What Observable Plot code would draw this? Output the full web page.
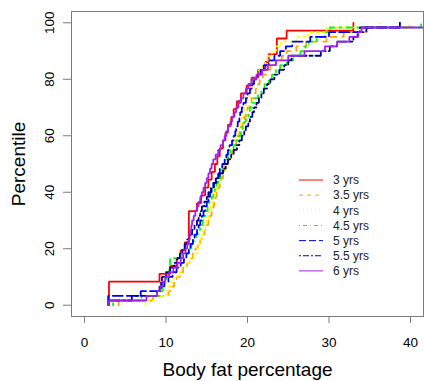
<!DOCTYPE html>
<html>
<head>
<meta charset="utf-8">
<script src="https://cdn.jsdelivr.net/npm/d3@7"></script>
<script src="https://cdn.jsdelivr.net/npm/@observablehq/plot@0.6"></script>
<style>
  html, body { margin: 0; padding: 0; background: #fff; }
  #chart { width: 424px; height: 381px; }
</style>
</head>
<body>
<div id="chart"></div>
<script>
// ---- data (body fat %) ----
const groups = ["3 yrs", "3.5 yrs", "4 yrs", "4.5 yrs", "5 yrs", "5.5 yrs", "6 yrs"];
const colors = ["#FF0000", "#FFA500", "#FFFF00", "#00FF00", "#0000FF", "#00008B", "#A020F0"];
const lineDash = [null, "6,6", "2,4", "2,5,6,5", "10,4", "3,3,9,3", null];
const legendDash = [null, "4,4", "1,3", "1,3,4,3", "7,3", "2,2,6,2", null];
const xTicks = [0, 10, 20, 30, 40];
const yTicks = [0, 20, 40, 60, 80, 100];

const fat3 = [3.0,3.0,3.0,9.2,10.5,11.3,11.8,12.3,12.8,12.8,12.8,12.8,13.8,14.3,14.8,15.2,15.6,16.0,
  16.3,16.6,17.0,17.3,17.6,18.0,18.3,18.7,19.2,19.9,20.5,21.3,22.2,22.6,23.6,23.6,24.8,33.0];
const fat35 = [4.2,8.4,10.3,10.6,11.0,11.3,11.7,12.1,12.6,12.9,13.3,13.6,13.9,14.2,14.4,14.7,15.0,15.2,
  15.4,15.6,15.8,15.9,16.1,16.2,16.4,16.6,16.8,17.0,17.2,17.4,17.6,17.9,18.1,18.3,18.6,18.8,19.0,19.2,
  19.4,19.6,19.8,20.0,20.3,20.5,20.8,21.0,21.3,21.5,21.9,22.4,22.8,23.5,24.2,24.8,26.0,27.2,29.7,31.8,34.5,39.9];
const fat4 = [7.5,8.6,10.0,10.3,10.6,10.9,11.4,11.9,12.4,12.9,13.4,13.8,14.0,14.2,14.4,14.6,14.8,15.0,
  15.2,15.3,15.5,15.7,15.8,16.0,16.2,16.4,16.6,16.7,16.9,17.1,17.3,17.6,17.8,18.1,18.3,18.6,18.8,18.9,
  19.1,19.3,19.4,19.6,19.8,20.0,20.2,20.4,20.6,20.8,21.1,21.4,21.8,22.2,22.6,23.0,23.5,24.1,26.0,27.5,29.7,36.2];
const fat45 = [3.5,7.0,9.3,9.6,9.8,10.0,10.2,10.4,10.5,10.5,11.8,12.8,13.1,13.4,13.7,13.9,14.2,14.5,
  14.7,14.9,15.1,15.3,15.6,15.8,16.0,16.2,16.4,16.7,16.9,17.1,17.4,17.6,17.9,18.3,18.6,19.0,19.2,19.4,
  19.6,19.8,20.1,20.3,20.6,20.9,21.3,21.7,22.1,22.6,23.0,23.5,24.0,24.8,25.6,26.5,27.1,27.5,28.5,29.5,30.1,41.3];
const fat5 = [2.9,2.9,6.9,9.4,9.8,10.3,10.8,11.3,11.8,12.2,12.5,12.8,13.0,13.3,13.5,13.8,14.0,14.2,
  14.4,14.6,14.8,15.0,15.2,15.4,15.6,15.9,16.1,16.4,16.6,16.9,17.2,17.4,17.6,17.8,18.1,18.3,18.5,18.6,
  18.8,19.0,19.1,19.3,19.5,19.8,20.0,20.3,20.6,20.8,21.2,21.6,22.0,22.6,23.3,24.0,24.7,25.5,27.7,30.0,34.6,38.7];
const fat55 = [3.0,5.8,8.9,9.2,9.4,9.5,10.0,10.5,11.0,11.4,11.7,12.0,12.3,12.6,12.9,13.2,13.5,13.8,
  14.0,14.2,14.4,14.7,15.0,15.2,15.5,15.8,16.2,16.6,17.0,17.3,17.6,18.0,18.3,18.7,19.0,19.3,19.6,19.8,
  20.1,20.3,20.6,20.8,21.1,21.4,21.7,22.0,22.4,22.8,23.3,23.9,24.5,25.0,25.4,29.0,30.1,31.0,33.0,33.5,33.8,38.7];
const fat6 = [3.0,7.6,8.9,9.3,9.6,9.9,10.4,10.9,11.4,11.8,12.1,12.4,12.6,12.8,12.9,13.0,13.1,13.2,
  13.4,13.6,13.8,14.0,14.2,14.4,14.6,14.8,15.0,15.2,15.4,15.6,15.8,16.1,16.4,16.7,17.0,17.2,17.4,17.6,
  17.9,18.1,18.4,18.6,18.9,19.2,19.5,19.8,20.1,20.5,21.1,21.8,22.5,23.5,25.0,27.0,29.5,31.0,32.5,33.6,34.0,45.0];

const series = [fat3, fat35, fat4, fat45, fat5, fat55, fat6];

// empirical cumulative distribution, in percent
function ecdf(vals, g) {
  const s = [...vals].sort((a, b) => a - b);
  const n = s.length;
  const pts = [{g, x: s[0], y: 0}];
  s.forEach((v, i) => pts.push({g, x: v, y: 100 * (i + 1) / n}));
  return pts;
}

const gray = "#7a7a7a";
const font = "'Liberation Sans', Arial, sans-serif";

const lineMarks = series.map((vals, i) =>
  Plot.line(ecdf(vals, groups[i]), {
    x: "x", y: "y", curve: "step-after",
    stroke: colors[i], strokeWidth: 1.8, strokeDasharray: lineDash[i],
    strokeLinejoin: "miter", clip: true
  })
);

const chart = Plot.plot({
  width: 424,
  height: 381,
  marginLeft: 71,
  marginRight: 1,
  marginTop: 11,
  marginBottom: 65,
  style: {fontFamily: font, fontSize: "13.5px", background: "#fff", color: "#000"},
  x: {domain: [-1.6, 41.6]},
  y: {domain: [-4, 104]},
  marks: [
    ...lineMarks,
    Plot.frame({stroke: gray}),
    Plot.axisX({ticks: xTicks, tickSize: 7, tickFormat: () => "", stroke: gray, label: null}),
    Plot.axisY({ticks: yTicks, tickSize: 8, tickFormat: () => "", stroke: gray, label: null}),
    Plot.text(xTicks, {x: d => d, text: d => String(d), frameAnchor: "bottom", dy: 30.7,
      lineAnchor: "bottom", fill: "#000", fontSize: 13.5}),
    Plot.text(yTicks, {y: d => d, text: d => String(d), frameAnchor: "left", dx: -17.7,
      lineAnchor: "bottom", rotate: -90, textAnchor: "middle", fill: "#000", fontSize: 13.5}),
    Plot.text(["Body fat percentage"], {text: d => d, frameAnchor: "bottom", dy: 59,
      lineAnchor: "bottom", fill: "#000", fontSize: 19}),
    Plot.text(["Percentile"], {text: d => d, frameAnchor: "left", dx: -47,
      lineAnchor: "bottom", rotate: -90, textAnchor: "middle", fill: "#000", fontSize: 19})
  ]
});

// legend (inside the plot area, no box)
const svg = d3.select(chart);
const lg = svg.append("g")
  .attr("font-family", font).attr("font-size", 12).attr("text-anchor", "start");
groups.forEach((g, i) => {
  const cy = 180 + i * 15.15;
  lg.append("line")
    .attr("x1", 299).attr("x2", 323).attr("y1", cy).attr("y2", cy)
    .attr("stroke", colors[i]).attr("stroke-width", 1)
    .attr("stroke-dasharray", legendDash[i]);
  lg.append("text")
    .attr("x", 333).attr("y", cy + 4.3)
    .attr("fill", "#222")
    .attr("text-anchor", "start")
    .text(g);
});

document.getElementById("chart").appendChild(chart);
</script>
</body>
</html>
